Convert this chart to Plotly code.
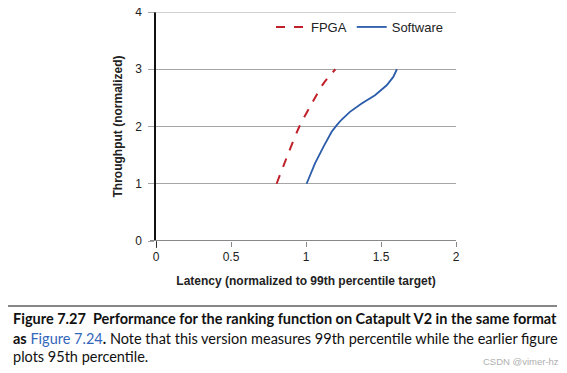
import plotly.graph_objects as go

fpga_latency = [0.804, 0.882, 0.956, 1.045, 1.116, 1.196]
fpga_throughput = [1.0, 1.53, 2.0, 2.43, 2.75, 3.0]
sw_latency = [1.004, 1.06, 1.116, 1.171, 1.204, 1.238, 1.293, 1.371, 1.46, 1.538, 1.582, 1.606]
sw_throughput = [1.0, 1.355, 1.645, 1.907, 2.02, 2.122, 2.256, 2.401, 2.547, 2.72, 2.866, 3.0]

x_ticks = [0, 0.5, 1, 1.5, 2]
x_tick_labels = ["0", "0.5", "1", "1.5", "2"]
y_ticks = [0, 1, 2, 3, 4]

OFF = 8  # default page body margin
W, H = 567 - OFF, 373 - OFF
L, R, T, B = 156 - OFF, 456 - OFF, 12 - OFF, 241 - OFF

def px(x):
    return (x - OFF - L) / (R - L)

def py(y):
    return (B - (y - OFF)) / (B - T)

fig = go.Figure()
fig.add_trace(go.Scatter(x=fpga_latency, y=fpga_throughput, mode="lines", name="FPGA",
                         line=dict(color="#c0202a", width=2, dash="dash", shape="spline", smoothing=0.8)))
fig.add_trace(go.Scatter(x=sw_latency, y=sw_throughput, mode="lines", name="Software",
                         line=dict(color="#2a5caa", width=1.8, shape="linear")))

font = "Liberation Sans, Arial, sans-serif"
fig.update_layout(
    width=W, height=H,
    margin=dict(l=L, r=W - R, t=T, b=H - B, autoexpand=False),
    plot_bgcolor="white", paper_bgcolor="white",
    showlegend=True,
    legend=dict(orientation="h", x=px(449), xanchor="right", y=py(27), yanchor="middle",
                font=dict(family=font, size=13, color="#222"), bgcolor="rgba(0,0,0,0)",
                itemwidth=30, traceorder="normal"),
    xaxis=dict(range=[0, 2], tickvals=x_ticks, ticktext=x_tick_labels, showgrid=False,
               zeroline=False, showline=False, ticks="outside", ticklen=5, tickcolor="#888",
               automargin=False, ticklabeloverflow="allow",
               tickfont=dict(family=font, size=12, color="#222"),
               title=dict(text="<b>Latency (normalized to 99th percentile target)</b>",
                          font=dict(family=font, size=12, color="#222"), standoff=13)),
    yaxis=dict(range=[0, 4], tickvals=y_ticks, showgrid=True, gridcolor="#a6a6a6", gridwidth=1,
               zeroline=False, showline=True, linecolor="#111", linewidth=1.5,
               ticks="outside", ticklen=6, tickcolor="#a6a6a6", automargin=False,
               ticklabelstandoff=4, ticklabeloverflow="allow",
               tickfont=dict(family=font, size=12, color="#222"),
               title=dict(text="<b>Throughput (normalized)</b>",
                          font=dict(family=font, size=12, color="#222"), standoff=10)),
)
fig.add_shape(type="line", xref="paper", yref="y", x0=px(150), x1=1, y0=0, y1=0,
              line=dict(color="#888", width=2))
fig.add_shape(type="line", xref="paper", yref="y", x0=px(150), x1=1, y0=4, y1=4,
              line=dict(color="#a6a6a6", width=1))
fig.add_shape(type="line", xref="x", yref="paper", x0=0, x1=0, y0=py(248), y1=0,
              line=dict(color="#111", width=1.5))

cap_font = "Lato, Noto Sans, sans-serif"
fig.add_shape(type="line", xref="paper", yref="paper", x0=px(8), x1=px(557), y0=py(306), y1=py(306),
              line=dict(color="#111", width=1.2))
lines = [
    "<b>Figure 7.27  Performance for the ranking function on Catapult V2 in the same format</b>",
    "<b>as</b> <span style='color:#3366bb'>Figure 7.24</span><b>.</b> Note that this version measures 99th percentile while the earlier figure",
    "plots 95th percentile.",
]
ys = [318, 338, 357]
for t, yy in zip(lines, ys):
    fig.add_annotation(text=t, xref="paper", yref="paper", x=px(11), y=py(yy), xanchor="left",
                       yanchor="middle", showarrow=False,
                       font=dict(family=cap_font, size=14.5, color="#111"))
fig.add_annotation(text="CSDN @vimer-hz", xref="paper", yref="paper", x=px(561), y=py(361),
                   xanchor="right", yanchor="middle", showarrow=False,
                   font=dict(family=font, size=9.5, color="#b0b0b0"))

fig.write_html("out.html")
